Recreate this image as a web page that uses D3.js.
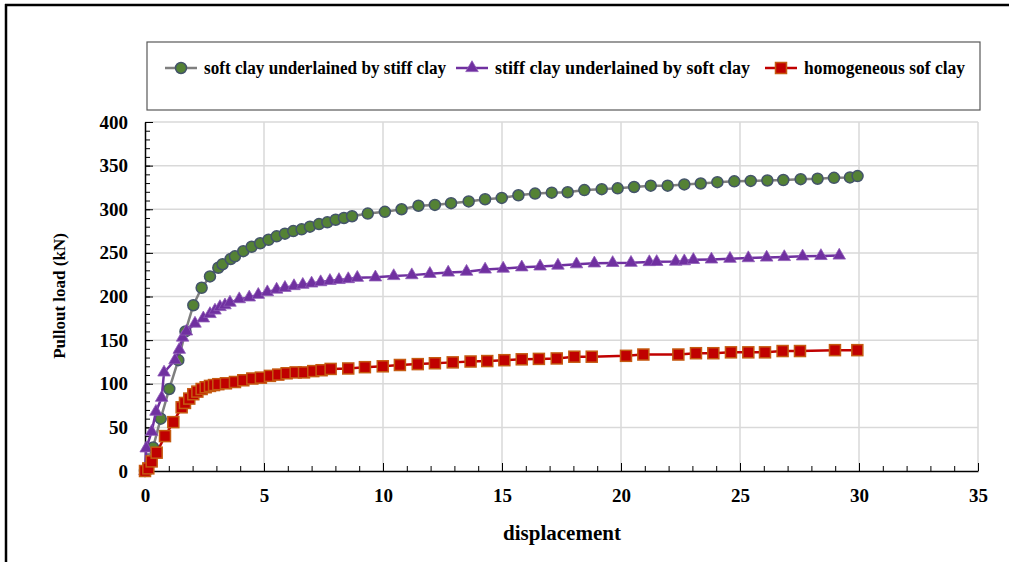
<!DOCTYPE html>
<html>
<head>
<meta charset="utf-8">
<script src="https://cdn.jsdelivr.net/npm/d3@7"></script>
<style>
  body { margin: 0; background: #fff; }
  text { font-family: "Liberation Serif", "Times New Roman", serif; font-weight: bold; }
</style>
</head>
<body>
<svg id="chart" width="1009" height="562"></svg>
<script>
// series names
var seriesNames = ["soft clay underlained by stiff clay", "stiff clay underlained by soft clay", "homogeneous sof clay"];

// soft clay underlained by stiff clay: [displacement, load]
var softOverStiff = [[0,0],[0.34,27],[0.66,60],[1.02,94],[1.4,127],[1.7,160],[2.03,190],[2.38,210],[2.73,223],[3.08,233],[3.26,237],[3.6,243],[3.78,246],[4.13,252],[4.48,257],[4.84,261],[5.19,265],[5.53,269],[5.88,272],[6.23,275],[6.58,277],[6.93,280],[7.31,283],[7.66,285],[8.01,288],[8.36,290],[8.7,292],[9.36,295],[10.08,297],[10.78,300],[11.49,304],[12.18,305],[12.86,307],[13.6,309],[14.29,311.5],[14.99,313],[15.69,316],[16.39,318],[17.09,319],[17.76,319.5],[18.46,322],[19.19,323],[19.86,324],[20.55,325.5],[21.25,327],[21.96,327],[22.66,328.5],[23.35,329.5],[24.05,331],[24.76,332],[25.45,332.5],[26.15,333],[26.82,333.5],[27.55,334.5],[28.26,335],[28.95,336],[29.62,336.5],[29.94,338]];

// stiff clay underlained by soft clay
var stiffOverSoft = [[0,0],[0.05,26],[0.28,45],[0.46,68],[0.7,84],[0.8,113],[1.26,127],[1.44,139],[1.58,153],[1.74,160],[2.1,169],[2.45,175],[2.73,180],[2.94,184],[3.15,188],[3.36,190],[3.57,193],[3.96,197],[4.38,199],[4.76,202],[5.14,205],[5.53,208],[5.88,210],[6.26,212],[6.63,213.5],[7.0,215],[7.38,216.5],[7.77,218],[8.15,219],[8.54,220],[8.92,221.5],[9.68,222],[10.45,223.5],[11.21,224.5],[11.97,226],[12.74,227.5],[13.51,228.5],[14.29,231],[15.05,232],[15.83,233.5],[16.6,234.5],[17.35,235.5],[18.13,237],[18.88,238],[19.65,238.5],[20.42,238.7],[21.19,239.5],[21.5,239.7],[22.3,240],[22.66,240.5],[23.04,242],[23.8,242.5],[24.58,243.3],[25.35,244],[26.12,244.7],[26.86,245.3],[27.63,246],[28.4,246.5],[29.17,247]];

// homogeneous sof clay
var homogeneous = [[0,0],[0.14,3],[0.28,11],[0.49,21],[0.84,40],[1.19,56],[1.54,73],[1.68,78],[1.86,83],[2.03,88],[2.2,91],[2.38,94],[2.55,96],[2.73,97.5],[2.9,98.5],[3.08,99.5],[3.4,100.5],[3.78,102],[4.13,104],[4.51,106],[4.87,107],[5.25,109],[5.6,110.5],[5.95,112],[6.33,113],[6.68,113],[7.07,114.5],[7.42,115.5],[7.8,117],[8.54,117.5],[9.24,119],[9.99,120],[10.71,121.5],[11.46,122.5],[12.18,123.5],[12.93,124.5],[13.68,125.5],[14.38,126],[15.1,127],[15.83,128],[16.55,128.5],[17.3,129],[18.04,131],[18.77,131],[20.21,132],[20.94,133.5],[22.41,133.5],[23.15,135],[23.88,135],[24.62,136],[25.35,136],[26.05,136],[26.79,137.5],[27.52,137.5],[28.99,138.5],[29.93,138.5]];

// tick labels
var xTicks = [0, 5, 10, 15, 20, 25, 30, 35];
var yTicks = [0, 50, 100, 150, 200, 250, 300, 350, 400];

var svg = d3.select("#chart");

// outer frame (top and left)
svg.append("line").attr("x1", 5).attr("y1", 5).attr("x2", 1009).attr("y2", 5)
    .attr("stroke", "#000").attr("stroke-width", 2.5);
svg.append("line").attr("x1", 6).attr("y1", 4).attr("x2", 6).attr("y2", 562)
    .attr("stroke", "#000").attr("stroke-width", 2.5);

var x = d3.scaleLinear().domain([0, 35]).range([145, 978]);
var y = d3.scaleLinear().domain([0, 400]).range([471, 122]);

// gridlines
svg.append("g").selectAll("line").data(yTicks.slice(1)).enter().append("line")
    .attr("x1", 145).attr("x2", 978)
    .attr("y1", function(d) { return y(d); }).attr("y2", function(d) { return y(d); })
    .attr("stroke", "#d9d9d9").attr("stroke-width", 1.5);
svg.append("g").selectAll("line").data(xTicks.slice(1)).enter().append("line")
    .attr("y1", 122).attr("y2", 471)
    .attr("x1", function(d) { return x(d); }).attr("x2", function(d) { return x(d); })
    .attr("stroke", "#d9d9d9").attr("stroke-width", 1.5);

// minor ticks
svg.append("g").attr("transform", "translate(0,471)")
    .call(d3.axisBottom(x).ticks(35).tickSize(-5).tickSizeOuter(0).tickFormat(""))
    .call(function(g) { g.select(".domain").remove(); g.selectAll("line").attr("stroke", "#000"); });
svg.append("g").attr("transform", "translate(145,0)")
    .call(d3.axisLeft(y).ticks(40).tickSize(-5).tickSizeOuter(0).tickFormat(""))
    .call(function(g) { g.select(".domain").remove(); g.selectAll("line").attr("stroke", "#000"); });

// major axes
var xAxis = svg.append("g").attr("transform", "translate(0,471)")
    .call(d3.axisBottom(x).tickValues(xTicks).tickSize(-8).tickSizeOuter(0).tickPadding(18));
var yAxis = svg.append("g").attr("transform", "translate(145,0)")
    .call(d3.axisLeft(y).tickValues(yTicks).tickSize(-8).tickSizeOuter(0).tickPadding(17));
[xAxis, yAxis].forEach(function(g) {
    g.select(".domain").attr("stroke", "#000").attr("stroke-width", 1.5);
    g.selectAll("line").attr("stroke", "#000");
    g.selectAll("text").attr("font-size", 19).attr("font-family", "Liberation Serif").attr("font-weight", "bold").attr("fill", "#000");
});

// axis titles
svg.append("text").attr("x", 562).attr("y", 540).attr("text-anchor", "middle")
    .attr("font-size", 21).text("displacement");
svg.append("text").attr("transform", "translate(65,296) rotate(-90)").attr("text-anchor", "middle")
    .attr("font-size", 17).text("Pullout load (kN)");

var line = d3.line()
    .x(function(d) { return x(d[0]); })
    .y(function(d) { return y(d[1]); });

var styles = [
    { data: softOverStiff, line: "#7f7f7f", fill: "#548235", stroke: "#44546a", shape: "circle" },
    { data: stiffOverSoft, line: "#7030a0", fill: "#7030a0", stroke: "#7030a0", shape: "triangle" },
    { data: homogeneous, line: "#c00000", fill: "#c00000", stroke: "#c55a11", shape: "square" }
];

function drawMarker(g, s) {
    if (s.shape == "circle") {
        g.append("circle").attr("r", 5.5).attr("fill", s.fill).attr("stroke", s.stroke).attr("stroke-width", 1.5);
    } else if (s.shape == "triangle") {
        g.append("path").attr("d", d3.symbol().type(d3.symbolTriangle).size(68)())
            .attr("fill", s.fill).attr("stroke", "#8e5bb8").attr("stroke-width", 0.8);
    } else {
        g.append("rect").attr("x", -5.5).attr("y", -5.5).attr("width", 11).attr("height", 11)
            .attr("fill", s.fill).attr("stroke", s.stroke).attr("stroke-width", 1.5);
    }
}

styles.forEach(function(s) {
    svg.append("path").datum(s.data).attr("d", line)
        .attr("fill", "none").attr("stroke", s.line).attr("stroke-width", 2.5);
    svg.append("g").selectAll("g").data(s.data).enter().append("g")
        .attr("transform", function(d) { return "translate(" + x(d[0]) + "," + y(d[1]) + ")"; })
        .each(function() { drawMarker(d3.select(this), s); });
});

// legend
svg.append("rect").attr("x", 147).attr("y", 42).attr("width", 833).attr("height", 68)
    .attr("fill", "#fff").attr("stroke", "#595959").attr("stroke-width", 1.2);
var legendX = [165, 456, 765];
var legendLen = [242, 255, 161];
styles.forEach(function(s, i) {
    var g = svg.append("g").attr("transform", "translate(" + legendX[i] + ",68)");
    g.append("line").attr("x1", 0).attr("x2", 32).attr("stroke", s.line).attr("stroke-width", 2.5);
    var m = g.append("g").attr("transform", "translate(16,0)");
    drawMarker(m, s);
    g.append("text").attr("x", 39).attr("y", 6).attr("font-size", 18)
        .attr("textLength", legendLen[i]).attr("lengthAdjust", "spacingAndGlyphs")
        .text(seriesNames[i]);
});
</script>
</body>
</html>
